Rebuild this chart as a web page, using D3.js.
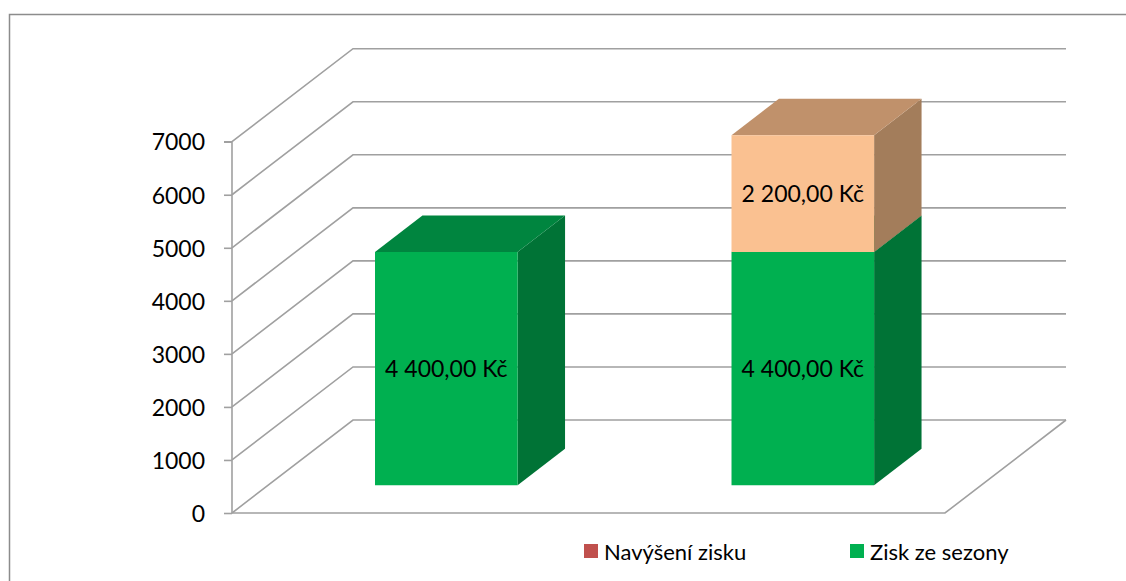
<!DOCTYPE html>
<html>
<head>
<meta charset="utf-8">
<script src="https://cdn.jsdelivr.net/npm/d3@7"></script>
<style>
  body { margin: 0; background: #fff; }
  text { font-family: Lato, "Open Sans", sans-serif; fill: #000; }
</style>
</head>
<body>
<div id="chart"></div>
<script>
// Chart data
let categories = ["1", "2"];
let seriesNames = ["Zisk ze sezony", "Navýšení zisku"];
let ziskZeSezony = [4400, 4400];
let navyseniZisku = [0, 2200];
let yTicks = [0, 1000, 2000, 3000, 4000, 5000, 6000, 7000];
let legendNames = ["Navýšení zisku", "Zisk ze sezony"];

// Colours: front, top, side for each series
let colors = {
    "Zisk ze sezony": { front: '#00B050', top: '#00853F', side: '#007336' },
    "Navýšení zisku": { front: '#FAC191', top: '#C0916B', side: '#A37D5B' }
};
let legendColors = { "Navýšení zisku": '#C0504D', "Zisk ze sezony": '#00B050' };

let svgWidth = 1126, svgHeight = 581;

// Plot floor (front edge) and depth of the 3D box
let plot = { left: 232, right: 945, bottom: 513, top: 141.7 };
let depth = { dx: 121, dy: -93 };
// bars sit between these depth fractions
let barDepth = [0.298, 0.69];

let cz = d3.formatLocale({
    decimal: ",", thousands: "\u00a0", grouping: [3], currency: ["", " Kč"]
});
let fmt = cz.format("$,.2f");

let svg = d3.select('#chart')
            .append('svg')
            .attr('width', svgWidth)
            .attr('height', svgHeight);

// Outer chart border (runs past right and bottom edge)
svg.append('rect')
    .attr('x', 9.5).attr('y', 14.5)
    .attr('width', 1200).attr('height', 700)
    .attr('fill', 'none')
    .attr('stroke', '#8c8c8c')
    .attr('stroke-width', 1.5);

let xScale = d3.scaleBand()
                .domain(categories)
                .range([plot.left, plot.right])
                .paddingInner(0.6)
                .paddingOuter(0.3);

let yScale = d3.scaleLinear()
                .domain([0, 7000])
                .range([plot.bottom, plot.top]);

// project a point: x at floor front, value, depth fraction
function pt(x, v, d) {
    return [x + d * depth.dx, yScale(v) + d * depth.dy];
}

let gridColor = '#a0a0a0';
let grid = svg.append('g')
            .attr('stroke', gridColor)
            .attr('stroke-width', 1.6)
            .attr('fill', 'none');

// Side wall diagonals + back wall gridlines
yTicks.forEach(t => {
    let a = pt(plot.left, t, 0), b = pt(plot.left, t, 1), c = pt(plot.right, t, 1);
    grid.append('polyline')
        .attr('points', [a, b, c].map(p => p.join(',')).join(' '));
});

// Floor front and right edge
let f0 = pt(plot.left, 0, 0), f1 = pt(plot.right, 0, 0), f2 = pt(plot.right, 0, 1);
grid.append('polyline')
    .attr('points', [f0, f1, f2].map(p => p.join(',')).join(' '));

// Front vertical axis with ticks
let yAxis = d3.axisLeft(yScale)
                .tickValues(yTicks)
                .tickSize(8)
                .tickFormat(d3.format('d'));

let axG = svg.append('g')
            .attr('transform', `translate(${plot.left}, 0)`)
            .call(yAxis);
axG.selectAll('path, line').attr('stroke', gridColor).attr('stroke-width', 1.6);
axG.select('.domain').attr('d', `M-8,${yScale(7000)}H0V${yScale(0)}`);
axG.selectAll('text')
    .attr('x', -27)
    .attr('dy', '0.36em')
    .style('font-family', 'Lato, sans-serif')
    .style('font-size', '23px')
    .attr('fill', '#000');

// Bars, stacked series drawn bottom to top
let stacks = [ziskZeSezony, navyseniZisku];
let barsG = svg.append('g');

categories.forEach((cat, i) => {
    let x0 = xScale(cat), x1 = x0 + xScale.bandwidth();
    let base = 0;
    stacks.forEach((vals, s) => {
        let v = vals[i];
        if (v <= 0) return;
        let lo = base, hi = base + v;
        let col = colors[seriesNames[s]];
        let [d0, d1] = barDepth;
        let poly = pts => pts.map(p => p.join(',')).join(' ');

        // side face
        barsG.append('polygon')
            .attr('points', poly([pt(x1, lo, d0), pt(x1, lo, d1), pt(x1, hi, d1), pt(x1, hi, d0)]))
            .attr('fill', col.side);
        // top face
        barsG.append('polygon')
            .attr('points', poly([pt(x0, hi, d0), pt(x1, hi, d0), pt(x1, hi, d1), pt(x0, hi, d1)]))
            .attr('fill', col.top);
        // front face
        barsG.append('polygon')
            .attr('points', poly([pt(x0, lo, d0), pt(x1, lo, d0), pt(x1, hi, d0), pt(x0, hi, d0)]))
            .attr('fill', col.front);

        let c = pt((x0 + x1) / 2, (lo + hi) / 2, d0);
        barsG.append('text')
            .attr('x', c[0])
            .attr('y', c[1])
            .attr('dy', '0.36em')
            .attr('text-anchor', 'middle')
            .style('font-size', '23px')
            .text(fmt(v));

        base = hi;
    });
});

// Legend
let legendX = [584, 850];
let legend = svg.append('g');
legendNames.forEach((name, i) => {
    legend.append('rect')
        .attr('x', legendX[i]).attr('y', 544)
        .attr('width', 14).attr('height', 14)
        .attr('fill', legendColors[name]);
    legend.append('text')
        .attr('x', legendX[i] + 20)
        .attr('y', 559.5)
        .style('font-size', '22px')
        .text(name);
});
</script>
</body>
</html>
